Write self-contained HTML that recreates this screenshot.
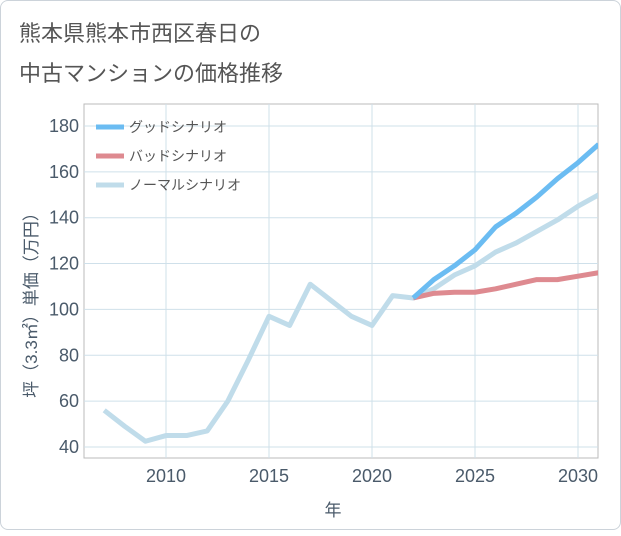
<!DOCTYPE html>
<html><head><meta charset="utf-8"><style>
body{margin:0;background:#fff;}
#card{position:absolute;left:0;top:0;width:619px;height:528px;border:1px solid #ccd3da;border-radius:8px;background:#fff;}
text{font-family:"Liberation Sans","Noto Sans CJK JP",sans-serif;}
</style></head><body>
<div id="card">
<svg id="chart" width="621" height="530"></svg>
</div>
<script>
const years=[2007,2008,2009,2010,2011,2012,2013,2014,2015,2016,2017,2018,2019,2020,2021,2022,2023,2024,2025,2026,2027,2028,2029,2030,2031];
const normalValues=[56,49,42.5,45,45,47,60,78,97,93,111,104,97,93,106,105,109,115,119,125,129,134,139,145,150];
const futureYears=[2022,2023,2024,2025,2026,2027,2028,2029,2030,2031];
const goodValues=[105,113,119,126,136,142,149,157,164,172];
const badValues=[105,107,107.5,107.5,109,111,113,113,114.5,116];
const xTicks=[2010,2015,2020,2025,2030];
const yTicks=[40,60,80,100,120,140,160,180];
const ns="http://www.w3.org/2000/svg";
const svg=document.getElementById('chart');
const L=83,R=597,T=103,B=457;
const xS=v=>165+(v-2010)*20.6;
const yS=v=>446-(v-40)*2.293;
function mk(t,a,p){const e=document.createElementNS(ns,t);for(const k in a)e.setAttribute(k,a[k]);(p||svg).appendChild(e);return e;}
let e;
e=mk('text',{x:18,y:40,'font-size':22,fill:'#555'});e.textContent='熊本県熊本市西区春日の';


e=mk('text',{x:18,y:80,'font-size':22,fill:'#555'});e.textContent='中古マンションの価格推移';


mk('rect',{x:L,y:T,width:R-L,height:B-T,fill:'none',stroke:'#bbb'});
xTicks.forEach(t=>{const x=xS(t);
e=mk('line',{x1:x,x2:x,y1:T,y2:B,stroke:'#cfe0ea','stroke-width':1});


e=mk('text',{x:x,y:481,'font-size':18,fill:'#4a5a6a','text-anchor':'middle'});e.textContent=t;

});
yTicks.forEach(t=>{const y=yS(t);
e=mk('line',{x1:L,x2:R,y1:y,y2:y,stroke:'#cfe0ea','stroke-width':1});


e=mk('text',{x:78,y:y+6,'font-size':18,fill:'#4a5a6a','text-anchor':'end'});e.textContent=t;

});
e=mk('text',{x:332,y:515,'font-size':17,fill:'#4a5a6a','text-anchor':'middle'});e.textContent='年';


e=mk('text',{x:0,y:0,'font-size':17,fill:'#4a5a6a','text-anchor':'middle',transform:'translate(36,300) rotate(-90)'});e.textContent='坪（3.3㎡）単価（万円）';


const clip=mk('clipPath',{id:'pc'});mk('rect',{x:L,y:T,width:R-L,height:B-T},clip);
function line(xs,vs,c,name){const d=xs.map((x,i)=>(i?'L':'M')+xS(x)+','+yS(vs[i])).join('');
const p=mk('path',{d:d,fill:'none',stroke:c,'stroke-width':5,'stroke-linejoin':'round','clip-path':'url(#pc)'});

}
line(years,normalValues,'#c0dcea','normal-scenario-line');
line(futureYears,badValues,'#de8a90','bad-scenario-line');
line(futureYears,goodValues,'#6bbcf2','good-scenario-line');
const leg=[['グッドシナリオ','#6bbcf2'],['バッドシナリオ','#de8a90'],['ノーマルシナリオ','#c0dcea']];
leg.forEach((l,i)=>{const y=126+i*29;
e=mk('line',{x1:95,x2:123,y1:y,y2:y,stroke:l[1],'stroke-width':5});


e=mk('text',{x:128,y:y+5,'font-size':14,fill:'#555'});e.textContent=l[0];

});
</script>
</body></html>
